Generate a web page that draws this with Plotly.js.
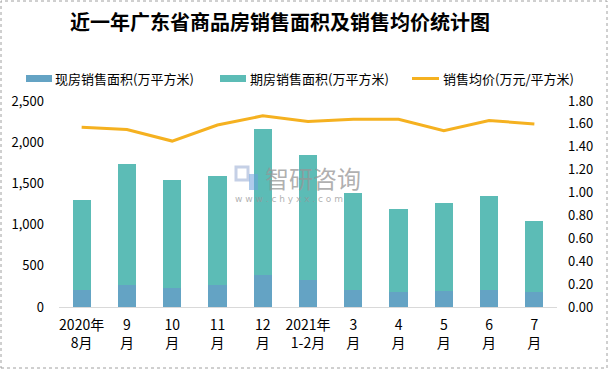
<!DOCTYPE html>
<html>
<head>
<meta charset="utf-8">
<script src="https://cdn.plot.ly/plotly-3.0.1.min.js"></script>
<style>
html,body{margin:0;padding:0;background:#fff;}
#chart{width:609px;height:370px;}
</style>
</head>
<body>
<div id="chart"></div>
<script>
// ---- data ----
var categories = ["2020年8月","9月","10月","11月","12月","2021年1-2月","3月","4月","5月","6月","7月"];
var tickLabels = ["2020年<br>8月","9<br>月","10<br>月","11<br>月","12<br>月","2021年<br>1-2月","3<br>月","4<br>月","5<br>月","6<br>月","7<br>月"];
var existingArea = [210, 270, 225, 270, 390, 330, 205, 180, 195, 205, 180];     // 现房销售面积
var futuresArea  = [1090, 1470, 1320, 1320, 1770, 1515, 1180, 1010, 1070, 1145, 865]; // 期房销售面积
var avgPrice     = [1.57, 1.55, 1.45, 1.59, 1.67, 1.62, 1.64, 1.64, 1.54, 1.63, 1.60]; // 销售均价
var seriesNames = ["现房销售面积(万平方米)", "期房销售面积(万平方米)", "销售均价(万元/平方米)"];
var chartTitle = "近一年广东省商品房销售面积及销售均价统计图";

// ---- layout helpers (pixel -> paper) ----
var L = 59, R = 52, T = 101, B = 63, W = 609, H = 370;
var PW = W - L - R, PH = H - T - B;
function xp(px){ return (px - L) / PW; }
function yp(py){ return (H - B - py) / PH; }

var cBlue = "#64A3C4", cTeal = "#5CBCB6", cGold = "#F5B120";
var fontCJK = "'Noto Sans CJK SC', 'Noto Sans', sans-serif";

var traces = [
  {type:"bar", x:categories, y:existingArea, name:seriesNames[0], marker:{color:cBlue}, showlegend:false, hoverinfo:"skip"},
  {type:"bar", x:categories, y:futuresArea, name:seriesNames[1], marker:{color:cTeal}, showlegend:false, hoverinfo:"skip"},
  {type:"scatter", mode:"lines", x:categories, y:avgPrice, yaxis:"y2", name:seriesNames[2], line:{color:cGold, width:3}, showlegend:false, hoverinfo:"skip"}
];

var legY = 78.5;
var shapes = [
  // outer dotted border
  {type:"rect", xref:"paper", yref:"paper", x0:xp(1), x1:xp(607), y0:yp(368), y1:yp(1), line:{color:"#a0a0a0", width:1, dash:"dot"}, fillcolor:"rgba(0,0,0,0)"},
  // legend swatches
  {type:"rect", xref:"paper", yref:"paper", x0:xp(26), x1:xp(52), y0:yp(legY+3.5), y1:yp(legY-3.5), line:{width:0}, fillcolor:cBlue},
  {type:"rect", xref:"paper", yref:"paper", x0:xp(220), x1:xp(246), y0:yp(legY+3.5), y1:yp(legY-3.5), line:{width:0}, fillcolor:cTeal},
  {type:"line", xref:"paper", yref:"paper", x0:xp(412), x1:xp(439), y0:yp(legY), y1:yp(legY), line:{color:cGold, width:3}},
  // watermark logo (approximate)
  {type:"rect", xref:"paper", yref:"paper", x0:xp(236), x1:xp(248), y0:yp(180), y1:yp(167), line:{color:"rgba(150,170,210,0.55)", width:3}, fillcolor:"rgba(0,0,0,0)"},
  {type:"rect", xref:"paper", yref:"paper", x0:xp(249), x1:xp(258), y0:yp(190), y1:yp(174), line:{width:0}, fillcolor:"rgba(110,160,220,0.55)"}
];

var annotations = [
  {xref:"paper", yref:"paper", x:xp(53), y:yp(legY), xanchor:"left", yanchor:"middle", text:seriesNames[0], showarrow:false, font:{family:fontCJK, size:13, color:"#000"}},
  {xref:"paper", yref:"paper", x:xp(248), y:yp(legY), xanchor:"left", yanchor:"middle", text:seriesNames[1], showarrow:false, font:{family:fontCJK, size:13, color:"#000"}},
  {xref:"paper", yref:"paper", x:xp(441), y:yp(legY), xanchor:"left", yanchor:"middle", text:seriesNames[2], showarrow:false, font:{family:fontCJK, size:13, color:"#000"}},
  // watermark
  {xref:"paper", yref:"paper", x:xp(264), y:yp(177), xanchor:"left", yanchor:"middle", text:"智研咨询", showarrow:false, borderpad:0, font:{family:fontCJK, size:24, color:"rgba(150,150,150,0.75)"}},
  {xref:"paper", yref:"paper", x:xp(234), y:yp(199), xanchor:"left", yanchor:"middle", text:"w w w . c h y x x . c o m", showarrow:false, borderpad:0, font:{family:"'DejaVu Sans', sans-serif", size:9, color:"rgba(150,150,150,0.75)"}}
];

var layout = {
  width:W, height:H,
  margin:{l:L, r:R, t:T, b:B, pad:0},
  paper_bgcolor:"#fff", plot_bgcolor:"rgba(0,0,0,0)",
  title:{text:"<b>"+chartTitle+"</b>", x:70/W, xanchor:"left", xref:"container", y:1-23/H, yanchor:"middle", yref:"container", font:{family:fontCJK, size:20, color:"#000"}},
  barmode:"stack", bargap:0.6,
  showlegend:false,
  xaxis:{type:"category", tickmode:"array", tickvals:categories, ticktext:tickLabels, showline:true, linecolor:"#d9d9d9", linewidth:1, ticks:"", showgrid:false, zeroline:false, ticklabelstandoff:5, tickfont:{family:fontCJK, size:14, color:"#000"}, fixedrange:true},
  yaxis:{range:[0,2500], dtick:500, tickformat:",", showgrid:false, zeroline:false, showline:false, ticks:"", ticklabelstandoff:14, tickfont:{family:fontCJK, size:13, color:"#000"}, fixedrange:true},
  yaxis2:{range:[0,1.8], dtick:0.2, tickformat:".2f", overlaying:"y", side:"right", showgrid:false, zeroline:false, showline:false, ticks:"", ticklabelstandoff:10, tickfont:{family:fontCJK, size:13, color:"#000"}, fixedrange:true},
  shapes:shapes,
  annotations:annotations
};

Plotly.newPlot("chart", traces, layout, {displayModeBar:false, staticPlot:true});
</script>
</body>
</html>
